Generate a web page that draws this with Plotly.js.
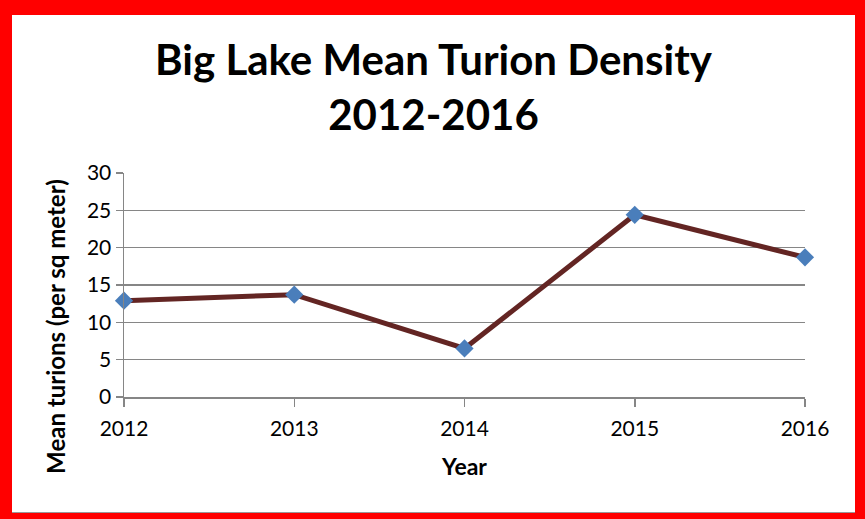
<!DOCTYPE html>
<html>
<head>
<meta charset="utf-8">
<script src="https://cdn.plot.ly/plotly-3.0.1.min.js"></script>
<style>
html,body{margin:0;padding:0;background:#ff0000;width:865px;height:519px;overflow:hidden;}
#chart{position:absolute;left:12px;top:15px;width:843px;height:497px;background:#fff;border-bottom:1px solid #999;}
</style>
</head>
<body>
<div id="chart"></div>
<script>
const years = [2012, 2013, 2014, 2015, 2016];
const turions = [12.9, 13.7, 6.5, 24.4, 18.7];
const yTicks = [0, 5, 10, 15, 20, 25, 30];
const titleText = 'Big Lake Mean Turion Density<br>2012-2016';
const xTitle = 'Year';
const yTitle = 'Mean turions (per sq meter)';

const FONT = 'Lato, "Open Sans", sans-serif';

Plotly.newPlot('chart', [{
  x: years,
  y: turions,
  type: 'scatter',
  mode: 'lines+markers',
  line: {color: '#632523', width: 5},
  marker: {symbol: 'diamond', size: 14, color: '#4a7ebb'},
  cliponaxis: false,
  hoverinfo: 'x+y'
}], {
  width: 843, height: 497,
  margin: {l: 112, r: 50, t: 158, b: 115, pad: 0},
  paper_bgcolor: '#ffffff',
  plot_bgcolor: '#ffffff',
  showlegend: false,
  font: {family: FONT, color: '#000', size: 20},
  title: {
    text: '<b>' + titleText + '</b>',
    font: {family: FONT, size: 42, color: '#000'},
    x: 0.5, xanchor: 'center', y: 0.879, yanchor: 'top'
  },
  xaxis: {
    range: [2012, 2016],
    tickvals: years,
    ticktext: years.map(String),
    showgrid: false,
    zeroline: false,
    showline: true, linecolor: '#868686', linewidth: 1.5,
    ticks: 'outside', ticklen: 8, tickcolor: '#868686', tickwidth: 1.5,
    ticklabelstandoff: 4,
    tickfont: {family: FONT, size: 21, color: '#000'},
    title: {text: '<b>' + xTitle + '</b>', font: {family: FONT, size: 23, color: '#000'}, standoff: 20}
  },
  yaxis: {
    range: [0, 30],
    tickvals: yTicks,
    showgrid: true, gridcolor: '#868686', gridwidth: 1.5,
    zeroline: false,
    showline: true, linecolor: '#868686', linewidth: 1.5,
    ticks: 'outside', ticklen: 7, tickcolor: '#868686', tickwidth: 1.5,
    tickfont: {family: FONT, size: 21, color: '#000'}
  },
  annotations: [{
    text: '<b>' + yTitle + '</b>',
    xref: 'paper', yref: 'paper',
    x: -0.1, y: 0.317,
    xanchor: 'center', yanchor: 'middle',
    textangle: -90,
    showarrow: false,
    font: {family: FONT, size: 24, color: '#000'}
  }]
}, {displayModeBar: false, staticPlot: true});
</script>
</body>
</html>
